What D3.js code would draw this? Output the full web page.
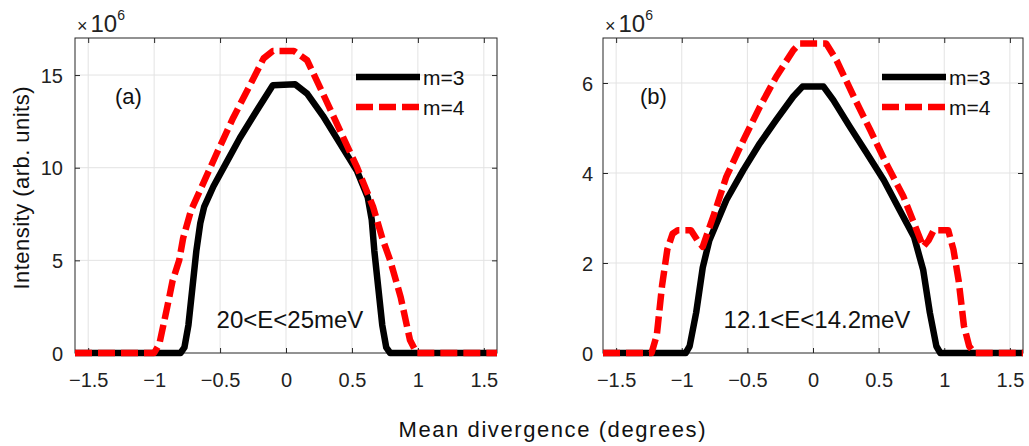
<!DOCTYPE html>
<html>
<head>
<meta charset="utf-8">
<title>Mean divergence</title>
<script src="https://cdn.jsdelivr.net/npm/d3@7"></script>
<style>
  body { margin: 0; background: #fff; }
  text { font-family: "Liberation Sans", Arial, Helvetica, sans-serif; }
</style>
</head>
<body>
<svg width="1029" height="446" id="mainsvg"></svg>
<script>
// ---- data (intensity in units of 1e6) ----
const xTicks = [-1.5, -1, -0.5, 0, 0.5, 1, 1.5];
const yTicksA = [0, 5, 10, 15];
const yTicksB = [0, 2, 4, 6];
const seriesNames = ['m=3', 'm=4'];
const panelTags = ['(a)', '(b)'];
const energyLabels = ['20<E<25meV', '12.1<E<14.2meV'];

// panel (a), 20<E<25 meV
const m3A = [[-1.6,0],[-0.8,0],[-0.77,0.3],[-0.74,1.5],[-0.71,3.5],[-0.68,5.5],[-0.65,7.0],[-0.62,7.9],
  [-0.55,9.0],[-0.45,10.3],[-0.35,11.6],[-0.22,13.1],[-0.1,14.45],[0.07,14.5],[0.16,14.0],[0.28,12.8],
  [0.41,11.3],[0.54,9.8],[0.62,8.4],[0.65,7.2],[0.67,5.5],[0.70,3.5],[0.73,1.5],[0.76,0.3],[0.79,0],[1.6,0]];
const m4A = [[-1.6,0],[-1.0,0],[-0.96,0.5],[-0.9,2.5],[-0.86,3.9],[-0.81,5.0],[-0.78,6.2],[-0.72,7.7],
  [-0.65,8.8],[-0.53,10.7],[-0.4,12.7],[-0.27,14.5],[-0.17,15.9],[-0.1,16.3],[0.06,16.3],[0.16,15.8],
  [0.28,14.0],[0.41,12.0],[0.54,10.0],[0.66,7.9],[0.73,6.2],[0.79,5.0],[0.87,3.0],[0.94,0.7],[0.99,0],[1.6,0]];

// panel (b), 12.1<E<14.2 meV
const m3B = [[-1.6,0],[-0.97,0],[-0.94,0.15],[-0.89,0.9],[-0.84,1.9],[-0.79,2.5],[-0.66,3.4],[-0.53,4.07],
  [-0.405,4.66],[-0.28,5.18],[-0.15,5.7],[-0.08,5.92],[0.08,5.92],[0.155,5.62],[0.28,5.03],[0.41,4.44],
  [0.54,3.84],[0.66,3.18],[0.77,2.58],[0.84,1.84],[0.89,0.9],[0.94,0.15],[0.97,0],[1.6,0]];
const m4B = [[-1.6,0],[-1.23,0],[-1.19,0.4],[-1.15,1.5],[-1.11,2.3],[-1.07,2.65],[-1.03,2.73],[-0.93,2.73],
  [-0.88,2.5],[-0.84,2.36],[-0.8,2.7],[-0.76,3.03],[-0.66,3.92],[-0.53,4.73],[-0.405,5.47],[-0.28,6.14],
  [-0.15,6.73],[-0.1,6.88],[0.1,6.88],[0.18,6.5],[0.31,5.7],[0.435,4.96],[0.56,4.2],[0.69,3.47],[0.77,2.88],
  [0.84,2.36],[0.88,2.5],[0.92,2.73],[1.03,2.73],[1.07,2.3],[1.11,1.6],[1.15,0.6],[1.19,0.15],[1.23,0],[1.6,0]];

const svg = d3.select('#mainsvg');
const plotTop = 38, innerHeight = 315;
const lineW = 6.5;

const panels = [
  {left: 75,  width: 422, yMax: 17, yTicks: yTicksA, m3: m3A, m4: m4A, tag: panelTags[0], energy: energyLabels[0], labPad: 12},
  {left: 603, width: 420, yMax: 7,  yTicks: yTicksB, m3: m3B, m4: m4B, tag: panelTags[1], energy: energyLabels[1], labPad: 10}
];

const drawPanel = function(p){
  const g = svg.append('g').attr('transform', `translate(${p.left}, ${plotTop})`);
  const xScale = d3.scaleLinear().domain([-1.6, 1.6]).range([0, p.width]);
  const yScale = d3.scaleLinear().domain([0, p.yMax]).range([innerHeight, 0]);

  // grid
  g.selectAll('.vgrid').data(xTicks).join('line')
    .attr('x1', d => xScale(d)).attr('x2', d => xScale(d))
    .attr('y1', 0).attr('y2', innerHeight)
    .attr('stroke', '#e3e3e3').attr('stroke-width', 1);
  g.selectAll('.hgrid').data(p.yTicks.filter(d => d > 0)).join('line')
    .attr('x1', 0).attr('x2', p.width)
    .attr('y1', d => yScale(d)).attr('y2', d => yScale(d))
    .attr('stroke', '#e3e3e3').attr('stroke-width', 1);

  // axes, ticks inward
  const fmt = d3.format('');
  const bottom = g.append('g').attr('transform', `translate(0, ${innerHeight})`)
    .call(d3.axisBottom(xScale).tickValues(xTicks).tickFormat(fmt).tickSize(-5).tickSizeOuter(0).tickPadding(20));
  const leftAx = g.append('g')
    .call(d3.axisLeft(yScale).tickValues(p.yTicks).tickFormat(fmt).tickSize(-5).tickSizeOuter(0).tickPadding(p.labPad));
  g.append('g')
    .call(d3.axisTop(xScale).tickValues(xTicks).tickFormat('').tickSize(-5).tickSizeOuter(0));
  g.append('g').attr('transform', `translate(${p.width}, 0)`)
    .call(d3.axisRight(yScale).tickValues(p.yTicks).tickFormat('').tickSize(-5).tickSizeOuter(0));
  g.selectAll('.domain').remove();
  g.selectAll('.tick line').attr('stroke', '#262626');
  [bottom, leftAx].forEach(a => a.selectAll('text')
    .attr('font-size', 20).attr('fill', '#222')
    .attr('font-family', '"Liberation Sans", Arial, sans-serif'));
  leftAx.selectAll('text').attr('dy', '0.36em');

  g.append('rect').attr('width', p.width).attr('height', innerHeight)
    .attr('fill', 'none').attr('stroke', '#262626').attr('stroke-width', 1);

  // curves
  const line = d3.line().x(d => xScale(d[0])).y(d => yScale(d[1]));
  g.append('path').attr('d', line(p.m3))
    .attr('fill', 'none').attr('stroke', '#000').attr('stroke-width', lineW)
    .attr('stroke-linejoin', 'round');
  g.append('path').attr('d', line(p.m4))
    .attr('fill', 'none').attr('stroke', '#ff0000').attr('stroke-width', lineW)
    .attr('stroke-dasharray', '17,6').attr('stroke-linejoin', 'round');

  // legend
  const lg = g.append('g').attr('transform', `translate(${p.width - 141}, 39)`);
  lg.append('line').attr('x1', 0).attr('x2', 64).attr('y1', 0).attr('y2', 0)
    .attr('stroke', '#000').attr('stroke-width', lineW);
  lg.append('line').attr('x1', 0).attr('x2', 64).attr('y1', 30).attr('y2', 30)
    .attr('stroke', '#ff0000').attr('stroke-width', lineW).attr('stroke-dasharray', '17,6');
  lg.selectAll('.lt').data(seriesNames).join('text')
    .attr('x', 67).attr('y', (d, i) => i * 30 + 8)
    .attr('font-size', 21).attr('fill', '#111').text(d => d);

  // panel tag and energy window
  g.append('text').attr('x', p.tag === '(a)' ? 40 : 37).attr('y', 66)
    .attr('font-size', 22).attr('fill', '#111').text(p.tag);
  g.append('text').attr('x', xScale(0.03)).attr('y', 290)
    .attr('text-anchor', 'middle').attr('font-size', 24).attr('fill', '#111').text(p.energy);

  // exponent
  const ex = g.append('text').attr('x', 2).attr('y', -6).attr('fill', '#222');
  ex.append('tspan').attr('font-size', 18).text('×');
  ex.append('tspan').attr('font-size', 24).attr('dx', 3).text('10');
  ex.append('tspan').attr('font-size', 14).attr('dy', -12).text('6');
};

panels.forEach(drawPanel);

// shared axis titles
svg.append('text')
  .attr('transform', 'translate(29, 188) rotate(-90)')
  .attr('text-anchor', 'middle').attr('font-size', 22).attr('fill', '#111')
  .attr('textLength', 203).attr('lengthAdjust', 'spacing')
  .text('Intensity (arb. units)');
svg.append('text')
  .attr('x', 552).attr('y', 437)
  .attr('text-anchor', 'middle').attr('font-size', 22).attr('fill', '#111')
  .attr('textLength', 307).attr('lengthAdjust', 'spacing')
  .text('Mean divergence (degrees)');
</script>
</body>
</html>
